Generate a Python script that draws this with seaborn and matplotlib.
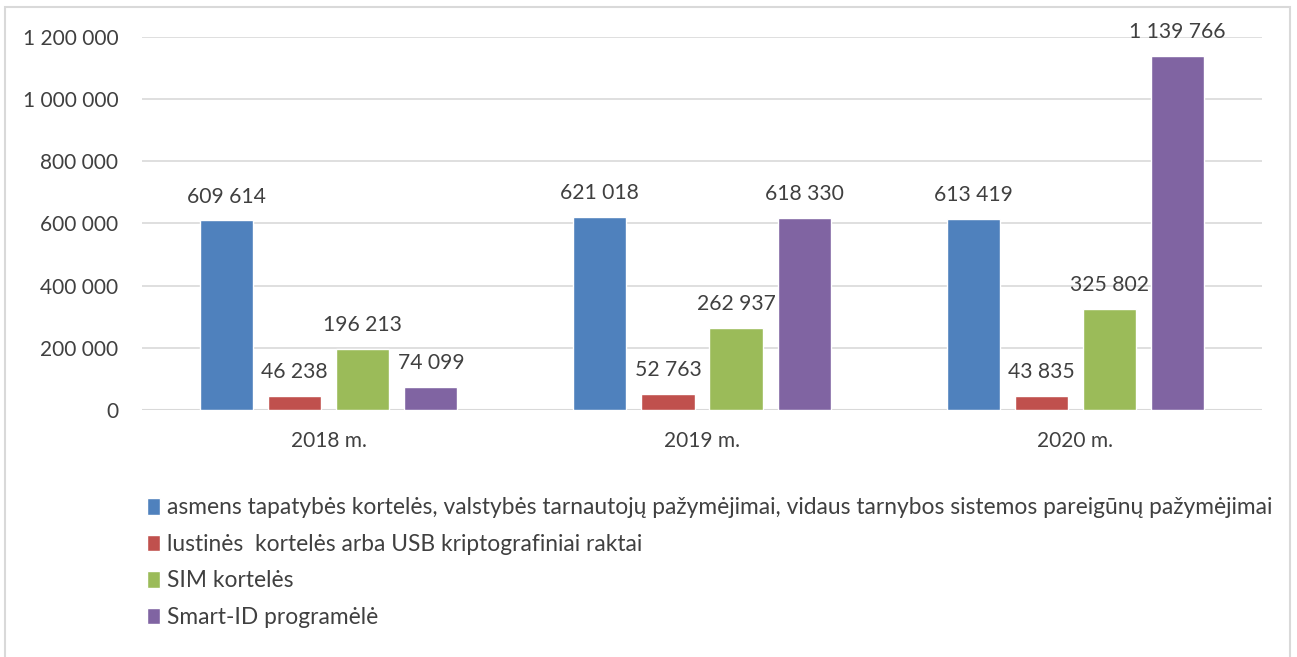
import seaborn as sns
import matplotlib.pyplot as plt
import matplotlib.ticker as ticker
from matplotlib.patches import Rectangle
import pandas as pd

# data
years = ['2018 m.', '2019 m.', '2020 m.']
series = ['asmens tapatybės kortelės, valstybės tarnautojų pažymėjimai, vidaus tarnybos sistemos pareigūnų pažymėjimai',
          'lustinės  kortelės arba USB kriptografiniai raktai',
          'SIM kortelės',
          'Smart-ID programėlė']
id_cards = [609614, 621018, 613419]
usb_keys = [46238, 52763, 43835]
sim_cards = [196213, 262937, 325802]
smart_id = [74099, 618330, 1139766]
colors = ['#4F81BD', '#C0504D', '#9BBB59', '#8064A2']

rows = []
for name, vals in zip(series, [id_cards, usb_keys, sim_cards, smart_id]):
    for y, v in zip(years, vals):
        rows.append({'year': y, 'series': name, 'value': v})
df = pd.DataFrame(rows)

sns.set_style('white')
plt.rcParams['font.family'] = ['Lato', 'DejaVu Sans']
txt = '#404040'

fig = plt.figure(figsize=(12.97, 6.57), dpi=100)
ax = fig.add_axes([0.1095, 0.376, 0.8635, 0.5677])

sns.barplot(data=df, x='year', y='value', hue='series', palette=colors,
            width=0.73, gap=0.22, ax=ax, saturation=1, legend=True)

def fmt(v, pos=None):
    return '{:,}'.format(int(v)).replace(',', ' ')

for cont in ax.containers:
    ax.bar_label(cont, labels=[fmt(b.get_height()) for b in cont],
                 padding=10, fontsize=15.2, color=txt)

ax.set_ylim(0, 1200000)
ax.set_xlim(-0.5, 2.5)
ax.yaxis.set_major_locator(ticker.MultipleLocator(200000))
ax.yaxis.set_major_formatter(ticker.FuncFormatter(fmt))
ax.grid(axis='y', color='#d9d9d9', linewidth=1.2)
ax.set_axisbelow(True)
for s in ax.spines.values():
    s.set_visible(False)
ax.axhline(0, color='#d9d9d9', linewidth=1.5, zorder=0.5)
ax.set_xlabel('')
ax.set_ylabel('')
ax.tick_params(axis='y', length=0, pad=17, labelsize=15, labelcolor=txt)
ax.tick_params(axis='x', length=0, pad=15, labelsize=15, labelcolor=txt)

handles, labels = ax.get_legend_handles_labels()
ax.legend(handles, labels, loc='upper left', bbox_to_anchor=(0.113, 0.243),
          bbox_transform=fig.transFigure, frameon=False, fontsize=16.4,
          handlelength=0.6, handleheight=0.75, handletextpad=0.3,
          labelspacing=0.68, labelcolor=txt, borderaxespad=0, borderpad=0)

fig.patches.append(Rectangle((5 / 1297, -0.01), 1285 / 1297, 1 - 7 / 657 + 0.01,
                             transform=fig.transFigure, fill=False,
                             edgecolor='#d9d9d9', linewidth=1.5))

fig.savefig('out.png', dpi=100)
